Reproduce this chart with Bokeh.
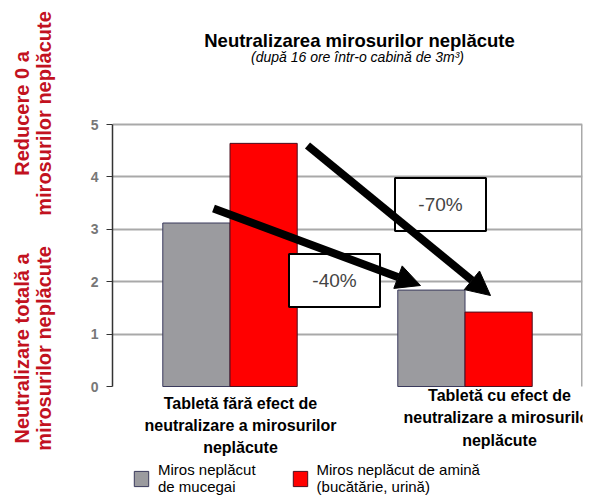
from bokeh.plotting import figure
from bokeh.models import (Range1d, FixedTicker, Arrow, NormalHead, Legend, LegendItem,
                          ColumnDataSource, LinearAxis)
from bokeh.core.properties import value
from bokeh.embed import file_html
from bokeh.resources import INLINE

# ---- data ----
categories = ["Tabletă fără efect", "Tabletă cu efect"]
mucegai = [3.12, 1.84]          # Miros neplăcut de mucegai
amina = [4.64, 1.42]            # Miros neplăcut de amină
y_ticks = [0, 1, 2, 3, 4, 5]
cat_lines = [["Tabletă fără efect de", "neutralizare a mirosurilor", "neplăcute"],
             ["Tabletă cu efect de", "neutralizare a mirosurilor", "neplăcute"]]
reductions = ["-40%", "-70%"]
series_names = ["Miros neplăcut\nde mucegai", "Miros neplăcut de amină\n(bucătărie, urină)"]
title_text = "Neutralizarea mirosurilor neplăcute"
subtitle_text = "(după 16 ore într-o cabină de 3m³)"
side_top = ["Reducere 0 a", "mirosurilor neplăcute"]
side_bottom = ["Neutralizare totală a", "mirosurilor neplăcute"]

FONT = "Liberation Sans"
GRAY = "#9b9b9f"
RED = "#ff0000"
DARKRED = "#c2121f"

W, H = 595, 497
FL, FR = 112, 582        # frame left/right in page pixels
Y0, Y5 = 386, 124        # page pixel rows of value 0 and value 5
PX_PER_UNIT = (Y0 - Y5) / 5.0
y_bottom = (Y0 - H) / PX_PER_UNIT
y_top = Y0 / PX_PER_UNIT

p = figure(width=W, height=H, x_range=Range1d(0, len(categories)),
           y_range=Range1d(y_bottom, y_top),
           output_backend="svg", toolbar_location=None,
           min_border_left=FL, min_border_right=W - FR, min_border_top=0,
           min_border_bottom=0)
p.outline_line_color = None
p.xaxis.visible = False
p.xgrid.visible = False
p.ygrid.ticker = FixedTicker(ticks=y_ticks[1:])
p.ygrid.grid_line_color = "#a9a9a9"
p.ygrid.grid_line_width = 2
yax = p.yaxis[0]
yax.ticker = FixedTicker(ticks=y_ticks)
yax.bounds = (y_ticks[0], y_ticks[-1])
yax.axis_line_color = "#333333"
yax.axis_line_width = 1.5
yax.major_tick_line_color = "#333333"
yax.major_tick_out = 6
yax.major_tick_in = 0
yax.minor_tick_line_color = None
yax.major_label_text_font = FONT
yax.major_label_text_font_style = "bold"
yax.major_label_text_font_size = "14px"
yax.major_label_text_color = "#777777"
yax.major_label_standoff = 8

# right border of the plot area
p.segment(x0=[len(categories)], y0=[y_ticks[0]], x1=[len(categories)], y1=[y_ticks[-1]],
          line_color="#a9a9a9", line_width=3)

BW = 0.286
centers = [i + 0.5 for i in range(len(categories))]
src = ColumnDataSource(dict(xg=[c - BW / 2 for c in centers], xr=[c + BW / 2 for c in centers],
                            muc=mucegai, am=amina))
r1 = p.vbar(x="xg", top="muc", bottom=0, width=BW, source=src,
            fill_color=GRAY, line_color="#3a3a5c", line_width=1)
r2 = p.vbar(x="xr", top="am", bottom=0, width=BW, source=src,
            fill_color=RED, line_color="#4a1020", line_width=1)

# page pixel -> data helpers for annotations
def dx(px):
    return (px - FL) / ((FR - FL) / float(len(categories)))

def dy(py):
    return (Y0 - py) / PX_PER_UNIT

# arrows
for (x0, y0, x1, y1) in [(213, 208, 420, 285), (307, 145, 490, 295)]:
    p.add_layout(Arrow(x_start=dx(x0), y_start=dy(y0), x_end=dx(x1), y_end=dy(y1),
                       line_color="black", line_width=8,
                       end=NormalHead(size=24, fill_color="black", line_color="black")))

# reduction boxes
for (cx, cy), txt in zip([(334, 280), (440, 204)], reductions):
    p.rect(x=[dx(cx)], y=[dy(cy)], width=91, height=53, width_units="screen",
           height_units="screen", fill_color="white", line_color="black", line_width=2)
    p.text(x=[dx(cx)], y=[dy(cy)], text=[txt], text_font=value(FONT),
           text_font_size="19px", text_color="#444444", text_align="center",
           text_baseline="middle")

# title and subtitle
p.text(x=[dx(359)], y=[dy(40)], text=[title_text], text_font=value(FONT),
       text_font_style="bold", text_font_size="18.5px", text_color="black",
       text_align="center", text_baseline="middle")
p.text(x=[dx(357)], y=[dy(56)], text=[subtitle_text], text_font=value(FONT),
       text_font_style="italic", text_font_size="14px", text_color="black",
       text_align="center", text_baseline="middle")

# category labels
for (cx, ys), lines in zip([(240, [403, 425, 447]), (499, [395, 417, 440])], cat_lines):
    p.text(x=[dx(cx)] * len(lines), y=[dy(v) for v in ys], text=lines,
           text_font=value(FONT), text_font_style="bold", text_font_size="16px",
           text_color="black", text_align="center", text_baseline="middle")

# left red rotated texts via two extra axes in page-pixel y coordinates
p.extra_y_ranges = {"py": Range1d(H, 0)}
TY_BOTTOM, TY_TOP = 348, 113
for lines, standoff in [((side_bottom[1], side_top[1]), 27), ((side_bottom[0], side_top[0]), -9)]:
    ax = LinearAxis(y_range_name="py", ticker=FixedTicker(ticks=[TY_BOTTOM, TY_TOP]),
                    major_label_overrides={TY_BOTTOM: lines[0], TY_TOP: lines[1]},
                    major_label_orientation="vertical",
                    axis_line_color=None, major_tick_line_color=None,
                    minor_tick_line_color=None, major_label_standoff=standoff,
                    major_label_text_font=FONT, major_label_text_font_style="bold",
                    major_label_text_font_size="20px", major_label_text_color=DARKRED)
    p.add_layout(ax, "left")

# legend inside the (full-height) frame, below the category labels
legend = Legend(items=[LegendItem(label=series_names[0], renderers=[r1]),
                       LegendItem(label=series_names[1], renderers=[r2])],
                location=(20, 2), orientation="horizontal",
                border_line_color=None, background_fill_alpha=0,
                glyph_width=18, glyph_height=19, label_standoff=8, spacing=35,
                label_text_font=FONT, label_text_font_size="15px",
                label_text_color="black",
                label_text_line_height=1.05, padding=0, margin=0)
p.add_layout(legend)

open("out.html", "w").write(file_html(p, INLINE))
